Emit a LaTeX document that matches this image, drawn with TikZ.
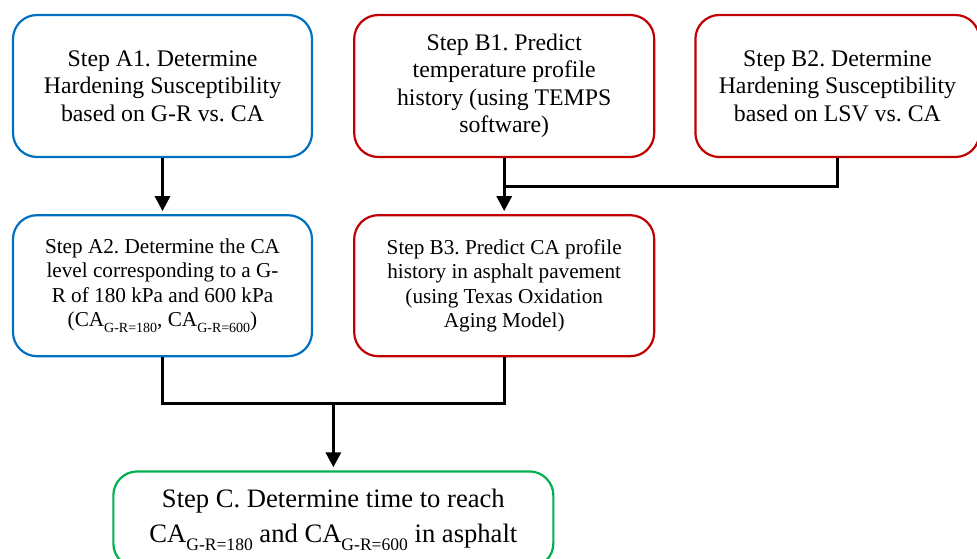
\documentclass[tikz,border=0pt]{standalone}
\usepackage{fontspec}
\setmainfont{Liberation Serif}
\usepackage{tikz}
\usepackage{xcolor}
\usetikzlibrary{arrows.meta,calc,positioning}
\frenchspacing
\definecolor{hsblue}{RGB}{0,112,192}
\definecolor{hsred}{RGB}{192,0,0}
\definecolor{hsgreen}{RGB}{0,176,80}
\newcommand{\hsbig}{\fontsize{23.8}{27.5}\selectfont}
\newcommand{\hsmid}{\fontsize{21.2}{24.4}\selectfont}
\newcommand{\hslarge}{\fontsize{26.6}{35}\selectfont}
\newcommand{\hssub}[1]{\raisebox{-.3em}{\scalebox{.66}{#1}}}
\tikzset{
  hsbox/.style={draw=hsblue, line width=2.2pt, rounded corners=24pt, align=center, inner sep=4pt},
  hsboxred/.style={draw=hsred, line width=2.2pt, rounded corners=24pt, align=center, inner sep=4pt},
  hsboxgreen/.style={draw=hsgreen, line width=2.2pt, rounded corners=24pt, align=center, inner sep=4pt},
  hsarr/.style={-{Triangle[length=15pt, width=15pt]}, line width=3pt, shorten >=3pt},
  hsline/.style={line width=3pt, line join=miter}
}
\begin{document}
\begin{tikzpicture}[node distance=56pt and 40pt]
  \useasboundingbox (0,0) rectangle (977pt,-559pt);
  \node[hsbox, minimum width=299pt, minimum height=142pt, font=\hsbig] (A1) at (162.5pt,-86pt) {Step A1. Determine\\Hardening Susceptibility\\based on G-R vs. CA};
  \node[hsboxred, right=40pt of A1, minimum width=300pt, minimum height=142pt, font=\hsbig] (B1) {Step B1. Predict\\temperature profile\\history (using TEMPS\\software)};
  \node[hsboxred, right=39pt of B1, minimum width=284pt, minimum height=142pt, font=\hsbig] (B2) {Step B2. Determine\\Hardening Susceptibility\\based on LSV vs. CA};
  \node[hsbox, below=of A1, minimum width=299pt, minimum height=141pt, font=\hsmid] (A2) {Step A2. Determine the CA\\level corresponding to a G-\\R of 180 kPa and 600 kPa\\(CA\hssub{G-R=180}, CA\hssub{G-R=600})};
  \node[hsboxred, below=of B1, minimum width=300pt, minimum height=141pt, font=\hsmid] (B3) {Step B3. Predict CA profile\\history in asphalt pavement\\(using Texas Oxidation\\Aging Model)};
  \coordinate (bjoin) at ($(B1.south)!.5!(B3.north)$);
  \coordinate (cjoin) at ($(A2.south)!.5!(B3.south)+(0,-46pt)$);
  \node[hsboxgreen, below=67pt of cjoin, minimum width=440pt, minimum height=96pt, font=\hslarge] (C) {Step C. Determine time to reach\\CA\hssub{G-R=180} and CA\hssub{G-R=600} in asphalt};
  \draw[hsarr] (A1) -- (A2);
  \draw[hsarr] (B1) -- (B3);
  \draw[hsline] (B2.south) |- (bjoin);
  \draw[hsline] (A2.south) |- (cjoin) -| (B3.south);
  \draw[hsarr] (cjoin) -- (C);
\end{tikzpicture}
\end{document}
